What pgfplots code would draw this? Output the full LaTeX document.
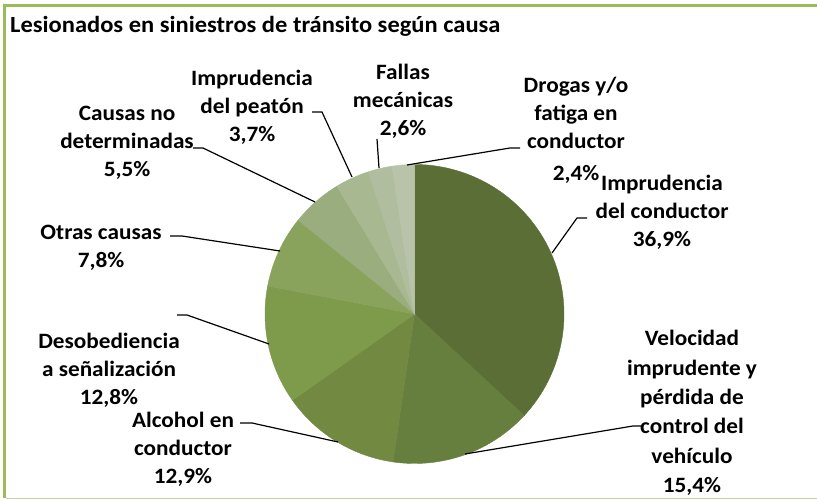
\documentclass[border=0pt]{standalone}
\usepackage{pgfplots}
\pgfplotsset{compat=1.18}
\usepackage{fontspec}
\setmainfont{Carlito}[FakeStretch=1.06]
\definecolor{c1}{HTML}{5B6E35}
\definecolor{c2}{HTML}{677F3E}
\definecolor{c3}{HTML}{718941}
\definecolor{c4}{HTML}{7E9A4B}
\definecolor{c5}{HTML}{89A35D}
\definecolor{c6}{HTML}{99AD7E}
\definecolor{c7}{HTML}{A8B891}
\definecolor{c8}{HTML}{B0BD9E}
\definecolor{c9}{HTML}{B9C3AA}
\definecolor{frameg}{HTML}{9BBB59}
\definecolor{framel}{HTML}{C3D69B}
\tikzset{lbl/.style={font=\fontsize{22}{28}\selectfont\bfseries, align=center, inner sep=0pt}}
\begin{document}
\begin{tikzpicture}
\begin{axis}[
  width=817bp, height=500bp, scale only axis,
  xmin=0, xmax=817, ymin=0, ymax=500, y dir=reverse,
  axis lines=none, clip=false,
]
% frame
\addplot[frameg, line width=3.5bp] coordinates {(817,5.5) (4.5,5.5) (4.5,498.5)};
\addplot[framel, line width=1.8bp] coordinates {(6,498.5) (817,498.5)};
% pie slices (percentages, clockwise from top)
\def\cx{414.5}\def\cy{314}\def\r{149.5}
\addplot[fill=c1, draw=c1, line width=0.4bp, domain={90-3.6*36.9}:{90}, samples=90] ({\cx+\r*cos(x)},{\cy-\r*sin(x)}) -- (axis cs:\cx,\cy) -- cycle;
\addplot[fill=c2, draw=c2, line width=0.4bp, domain={90-3.6*52.3}:{90-3.6*36.9}, samples=40] ({\cx+\r*cos(x)},{\cy-\r*sin(x)}) -- (axis cs:\cx,\cy) -- cycle;
\addplot[fill=c3, draw=c3, line width=0.4bp, domain={90-3.6*65.2}:{90-3.6*52.3}, samples=40] ({\cx+\r*cos(x)},{\cy-\r*sin(x)}) -- (axis cs:\cx,\cy) -- cycle;
\addplot[fill=c4, draw=c4, line width=0.4bp, domain={90-3.6*78.0}:{90-3.6*65.2}, samples=40] ({\cx+\r*cos(x)},{\cy-\r*sin(x)}) -- (axis cs:\cx,\cy) -- cycle;
\addplot[fill=c5, draw=c5, line width=0.4bp, domain={90-3.6*85.8}:{90-3.6*78.0}, samples=30] ({\cx+\r*cos(x)},{\cy-\r*sin(x)}) -- (axis cs:\cx,\cy) -- cycle;
\addplot[fill=c6, draw=c6, line width=0.4bp, domain={90-3.6*91.3}:{90-3.6*85.8}, samples=20] ({\cx+\r*cos(x)},{\cy-\r*sin(x)}) -- (axis cs:\cx,\cy) -- cycle;
\addplot[fill=c7, draw=c7, line width=0.4bp, domain={90-3.6*95.0}:{90-3.6*91.3}, samples=20] ({\cx+\r*cos(x)},{\cy-\r*sin(x)}) -- (axis cs:\cx,\cy) -- cycle;
\addplot[fill=c8, draw=c8, line width=0.4bp, domain={90-3.6*97.6}:{90-3.6*95.0}, samples=15] ({\cx+\r*cos(x)},{\cy-\r*sin(x)}) -- (axis cs:\cx,\cy) -- cycle;
\addplot[fill=c9, draw=c9, line width=0.4bp, domain={90-3.6*100}:{90-3.6*97.6}, samples=15] ({\cx+\r*cos(x)},{\cy-\r*sin(x)}) -- (axis cs:\cx,\cy) -- cycle;
% leader lines
\addplot[black, line width=1.2bp] coordinates {(193,148) (203,148) (315,202)};
\addplot[black, line width=1.2bp] coordinates {(312,112) (322,112) (352,177)};
\addplot[black, line width=1.2bp] coordinates {(377,139) (379,168)};
\addplot[black, line width=1.2bp] coordinates {(407,165) (510,148) (520,148)};
\addplot[black, line width=1.2bp] coordinates {(552,253) (577,218) (587,218)};
\addplot[black, line width=1.2bp] coordinates {(465,454) (633,426) (643,426)};
\addplot[black, line width=1.2bp] coordinates {(240,423) (252,423) (338,442)};
\addplot[black, line width=1.2bp] coordinates {(177,315) (187,315) (269,344)};
\addplot[black, line width=1.2bp] coordinates {(170,236) (182,236) (280,251)};
% title and labels
\node[anchor=base west, inner sep=0pt, font=\fontsize{23.2}{28}\selectfont\bfseries] at (axis cs:10,33) {Lesionados en siniestros de tránsito según causa};
\node[lbl] at (axis cs:252,107) {Imprudencia\\del peatón\\3,7\%};
\node[lbl] at (axis cs:403,101) {Fallas\\mecánicas\\2,6\%};
\node[lbl] at (axis cs:576,130) {Drogas y/o\\fatiga en\\conductor\\[4bp]2,4\%};
\node[lbl] at (axis cs:662,212) {Imprudencia\\del conductor\\36,9\%};
\node[lbl, font=\fontsize{22}{29.5}\selectfont\bfseries] at (axis cs:692,413) {Velocidad\\imprudente y\\pérdida de\\control del\\vehículo\\15,4\%};
\node[lbl] at (axis cs:127,143) {Causas no\\determinadas\\5,5\%};
\node[lbl] at (axis cs:101,248) {Otras causas\\7,8\%};
\node[lbl] at (axis cs:109,370) {Desobediencia\\a señalización\\12,8\%};
\node[lbl] at (axis cs:183,449) {Alcohol en\\conductor\\12,9\%};
\end{axis}
\pgfresetboundingbox
\path (current axis.south west) rectangle (current axis.north east);
\end{tikzpicture}
\end{document}
